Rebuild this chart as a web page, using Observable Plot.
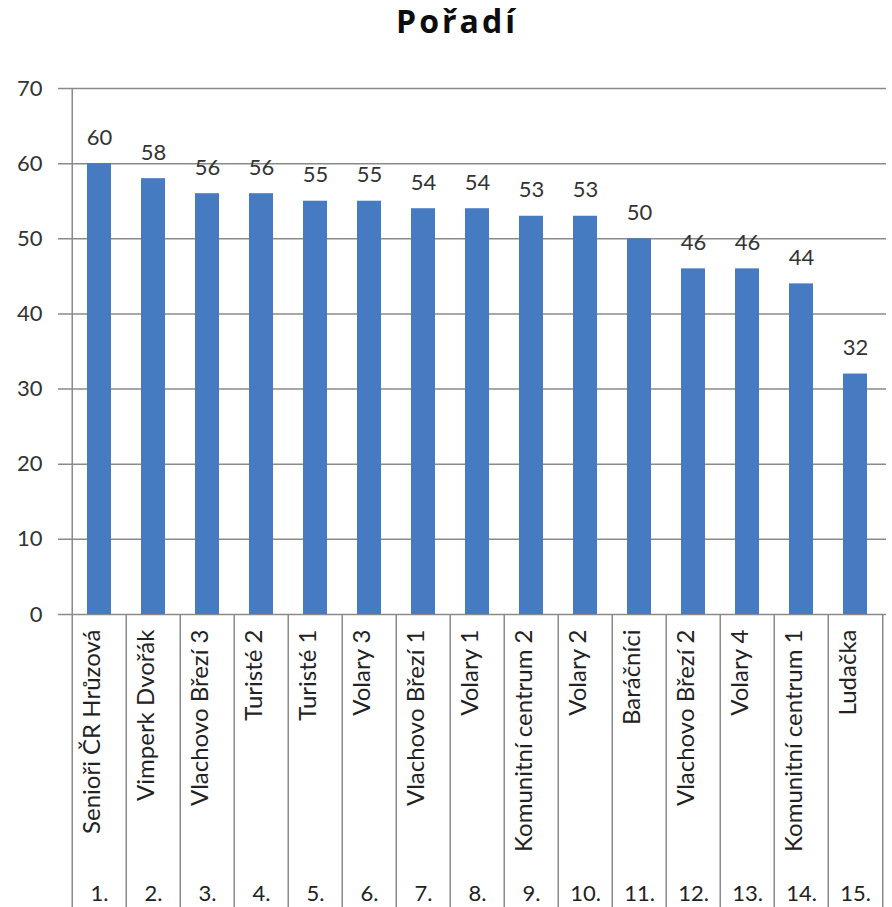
<!DOCTYPE html>
<html>
<head>
<meta charset="utf-8">
<script src="https://cdn.jsdelivr.net/npm/d3@7"></script>
<script src="https://cdn.jsdelivr.net/npm/@observablehq/plot@0.6"></script>
<style>
  html, body { margin: 0; padding: 0; background: #fff; }
  #title { width: 892px; height: 70px; box-sizing: border-box; padding-left: 22px; text-align: center;
           font-family: "Open Sans", Lato, sans-serif; font-weight: bold; font-size: 32px; letter-spacing: 3px;
           line-height: 42px; color: #0d0d0d; }
  svg { display: block; }
</style>
</head>
<body>
<div id="title">Pořadí</div>
<div id="chart"></div>
<script>
const names = ["Senioři ČR Hrůzová", "Vimperk Dvořák", "Vlachovo Březí 3", "Turisté 2", "Turisté 1", "Volary 3",
  "Vlachovo Březí 1", "Volary 1", "Komunitní centrum 2", "Volary 2", "Baráčníci", "Vlachovo Březí 2",
  "Volary 4", "Komunitní centrum 1", "Ludačka"];
const values = [60, 58, 56, 56, 55, 55, 54, 54, 53, 53, 50, 46, 46, 44, 32];
const ranks = ["1.", "2.", "3.", "4.", "5.", "6.", "7.", "8.", "9.", "10.", "11.", "12.", "13.", "14.", "15."];
const yTicks = [0, 10, 20, 30, 40, 50, 60, 70];

const data = names.map((n, i) => ({name: n, value: values[i], rank: ranks[i]}));

const W = 892, H = 837, mt = 18, mb = 293, ml = 68, mr = 6;
const innerH = H - mt - mb;
const step = (W - ml - mr) / names.length;
const gridColor = "#8a8a8a";
const font = "Lato, 'Open Sans', sans-serif";

const chart = Plot.plot({
  width: W, height: H,
  marginTop: mt, marginBottom: mb, marginLeft: ml, marginRight: mr,
  style: {fontFamily: font, color: "#333", background: "#fff"},
  x: {domain: names, padding: 0, axis: null},
  y: {domain: [0, 70], axis: null},
  marks: [
    Plot.ruleY(yTicks, {y: d => d, stroke: gridColor, strokeWidth: 1.5, insetLeft: -10}),
    Plot.text(yTicks, {y: d => d, text: d => String(d), frameAnchor: "left", textAnchor: "end", dx: -26, fontSize: 22, fill: "#333"}),
    Plot.barY(data, {x: "name", y: "value", fill: "#467bc1", insetLeft: 15, insetRight: 15}),
    Plot.text(data, {x: "name", y: "value", text: d => String(d.value), dy: -26, fontSize: 22, fill: "#333"}),
    // vertical axis line (full height incl. category section)
    Plot.ruleX([names[0]], {x: d => d, dx: -step / 2, stroke: gridColor, strokeWidth: 1.5, insetBottom: -mb}),
    // category separators
    Plot.ruleX(names.slice(1), {x: d => d, dx: -step / 2, stroke: gridColor, strokeWidth: 1.5, insetTop: innerH, insetBottom: -mb}),
    Plot.ruleX([names[names.length - 1]], {x: d => d, dx: step / 2, stroke: gridColor, strokeWidth: 1.5, insetTop: innerH, insetBottom: -mb}),
    Plot.text(data, {x: "name", text: "name", frameAnchor: "bottom", rotate: -90, textAnchor: "end", dy: 15, fontSize: 24, fill: "#222"}),
    Plot.text(data, {x: "name", text: "rank", frameAnchor: "bottom", dy: 286, fontSize: 22, fill: "#222"})
  ]
});
document.getElementById("chart").appendChild(chart);
</script>
</body>
</html>
